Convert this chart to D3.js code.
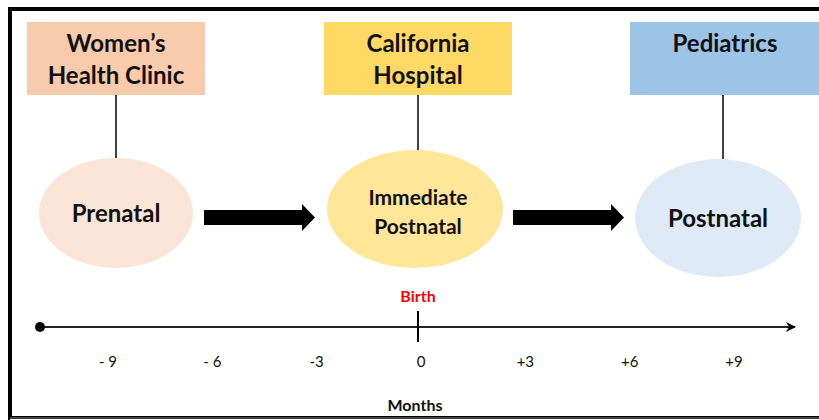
<!DOCTYPE html>
<html>
<head>
<meta charset="utf-8">
<script src="https://cdn.jsdelivr.net/npm/d3@7"></script>
<style>
  body { margin: 0; background: #fff; }
  svg { display: block; }
  text { font-family: Lato, "Open Sans", sans-serif; }
</style>
</head>
<body>
<div id="chart"></div>
<script>
// stages of care, left to right
var places = [["Women\u2019s", "Health Clinic"], ["California", "Hospital"], ["Pediatrics"]];
var stages = [["Prenatal"], ["Immediate", "Postnatal"], ["Postnatal"]];
var boxColors = ["#f8cbad", "#ffd966", "#9dc3e6"];
var ovalColors = ["#fbe5d6", "#ffe699", "#deebf7"];

// timeline in months around birth
var months = [-9, -6, -3, 0, 3, 6, 9];
var monthLabels = ["- 9", "- 6", "-3", "0", "+3", "+6", "+9"];

var width = 819, height = 420;

var svg = d3.select("#chart").append("svg")
  .attr("width", width)
  .attr("height", height);

svg.append("defs").append("marker")
  .attr("id", "tip")
  .attr("viewBox", "0 0 10 10")
  .attr("refX", 9).attr("refY", 5)
  .attr("markerWidth", 10).attr("markerHeight", 10)
  .attr("markerUnits", "userSpaceOnUse")
  .attr("orient", "auto")
  .append("path")
  .attr("d", "M0,0 L10,5 L0,10 L3,5 Z")
  .attr("fill", "#000");

// frame
svg.append("rect")
  .attr("x", 10).attr("y", 9)
  .attr("width", 830).attr("height", 409)
  .attr("fill", "none")
  .attr("stroke", "#000")
  .attr("stroke-width", 4);
svg.append("line")
  .attr("x1", 10).attr("x2", width)
  .attr("y1", 418.5).attr("y2", 418.5)
  .attr("stroke", "#fff").attr("stroke-width", 3);
svg.append("line")
  .attr("x1", 10).attr("x2", width)
  .attr("y1", 418).attr("y2", 418)
  .attr("stroke", "#000").attr("stroke-width", 1.5);

var stageX = d3.scalePoint()
  .domain(d3.range(stages.length))
  .range([116, 720]);

var boxW = [178, 188, 190];
var ovals = [{rx: 77, ry: 55, cy: 213}, {rx: 88, ry: 59, cy: 209}, {rx: 83, ry: 59, cy: 218}];

var g = svg.selectAll(".stage")
  .data(d3.range(stages.length))
  .enter().append("g")
  .attr("class", "stage");

// connector
g.append("line")
  .attr("x1", function(i){ return stageX(i) + (i == 2 ? 3 : 0) })
  .attr("x2", function(i){ return stageX(i) + (i == 2 ? 3 : 0) })
  .attr("y1", 95)
  .attr("y2", function(i){ return ovals[i].cy - ovals[i].ry })
  .attr("stroke", "#000")
  .attr("stroke-width", 1.5);

g.append("rect")
  .attr("x", function(i){ return i == 2 ? 630 : stageX(i) - boxW[i] / 2 })
  .attr("y", 22)
  .attr("width", function(i){ return boxW[i] })
  .attr("height", 73)
  .attr("fill", function(i){ return boxColors[i] });

g.append("text")
  .attr("text-anchor", "middle")
  .attr("font-weight", "bold")
  .attr("font-size", 24)
  .attr("fill", "#111")
  .selectAll("tspan")
  .data(function(i){ return places[i].map(function(t){ return {t: t, i: i} }) })
  .enter().append("tspan")
  .attr("x", function(d){ return stageX(d.i) + (d.i == 2 ? 5 : 0) })
  .attr("y", function(d, j){ return 52 + j * 32 })
  .text(function(d){ return d.t });

g.append("ellipse")
  .attr("cx", function(i){ return stageX(i) + (i == 1 ? -3 : i == 2 ? -2 : 0) })
  .attr("cy", function(i){ return ovals[i].cy })
  .attr("rx", function(i){ return ovals[i].rx })
  .attr("ry", function(i){ return ovals[i].ry })
  .attr("fill", function(i){ return ovalColors[i] });

g.append("text")
  .attr("text-anchor", "middle")
  .attr("font-weight", "bold")
  .attr("font-size", function(i){ return stages[i].length > 1 ? 21 : 24 })
  .attr("fill", "#111")
  .selectAll("tspan")
  .data(function(i){ return stages[i].map(function(t){ return {t: t, i: i, n: stages[i].length} }) })
  .enter().append("tspan")
  .attr("x", function(d){ return stageX(d.i) + (d.i == 2 ? -2 : 0) })
  .attr("y", function(d, j){
    if (d.n > 1) return 205 + j * 29;
    return ovals[d.i].cy + 9;
  })
  .text(function(d){ return d.t });

// block arrows between stages
var arrows = [[204, 315], [513, 624]];
svg.selectAll(".flow")
  .data(arrows)
  .enter().append("path")
  .attr("class", "flow")
  .attr("d", function(a){
    var h = a[1] - 13;
    return "M" + a[0] + ",210 L" + h + ",210 L" + h + ",204 L" + a[1] + ",217.5 L" + h + ",231 L" + h + ",225 L" + a[0] + ",225 Z";
  })
  .attr("fill", "#000");

// timeline
var x = d3.scaleLinear().domain([-9, 9]).range([108, 734]);
var axisY = 327;

svg.append("line")
  .attr("x1", 40).attr("x2", 795)
  .attr("y1", axisY).attr("y2", axisY)
  .attr("stroke", "#222")
  .attr("stroke-width", 2)
  .attr("marker-end", "url(#tip)");

svg.append("circle")
  .attr("cx", 40).attr("cy", axisY).attr("r", 5)
  .attr("fill", "#000");

svg.append("line")
  .attr("x1", 418).attr("x2", 418)
  .attr("y1", 311).attr("y2", 342)
  .attr("stroke", "#000")
  .attr("stroke-width", 2);

svg.append("text")
  .attr("x", 418).attr("y", 302)
  .attr("text-anchor", "middle")
  .attr("font-weight", "bold")
  .attr("font-size", 16)
  .attr("fill", "#ff0000")
  .text("Birth");

svg.selectAll(".month")
  .data(months)
  .enter().append("text")
  .attr("class", "month")
  .attr("x", function(d){ return x(d) })
  .attr("y", 367)
  .attr("text-anchor", "middle")
  .attr("font-size", 15)
  .attr("fill", "#111")
  .text(function(d, i){ return monthLabels[i] });

svg.append("text")
  .attr("x", 415).attr("y", 411)
  .attr("text-anchor", "middle")
  .attr("font-weight", "bold")
  .attr("font-size", 16)
  .attr("fill", "#111")
  .text("Months");
</script>
</body>
</html>
